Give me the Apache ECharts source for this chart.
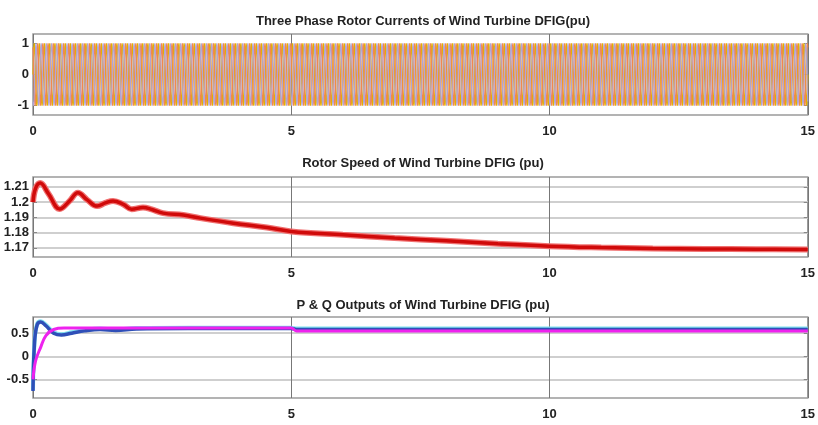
<!DOCTYPE html>
<html>
<head>
<meta charset="utf-8">
<script src="https://cdn.jsdelivr.net/npm/echarts@6/dist/echarts.min.js"></script>
<style>
html,body{margin:0;padding:0;background:#fff;}
#c{width:818px;height:425px;}
</style>
</head>
<body>
<div id="c"></div>
<script>
// ---------- data ----------
const titles = [
  'Three Phase Rotor Currents of Wind Turbine DFIG(pu)',
  'Rotor Speed of Wind Turbine DFIG (pu)',
  'P & Q Outputs of Wind Turbine DFIG (pu)'
];
const xTicks = [0, 5, 10, 15];

// Top panel: one period of the rotor current (pu), as read, and its repetition rate
const currentPeriodShape = [0, 0.5, 0.87, 1, 0.87, 0.5, 0, -0.5, -0.87, -1, -0.87, -0.5];
const currentCyclesPerSecond = 10;       // ~50 stripes per 5 s
const phaseShiftSamples = [0, 4, 8];     // 120 deg apart
const currentTicks = [-1, 0, 1];

// Middle panel: rotor speed (pu)
const speedTime = [0, 0.05, 0.14, 0.3, 0.52, 0.7, 0.87, 1.05, 1.24, 1.4, 1.55, 1.75, 1.91, 2.13, 2.3, 2.52, 2.91, 3.24, 3.88, 4.53, 5, 6, 7, 8, 9, 10, 11, 12, 13, 14, 15];
const speedValue = [1.200, 1.209, 1.2125, 1.2055, 1.1955, 1.2005, 1.2061, 1.2015, 1.1974, 1.1995, 1.2008, 1.1985, 1.1954, 1.1965, 1.1952, 1.1928, 1.1915, 1.1895, 1.1862, 1.1834, 1.1808, 1.1786, 1.1765, 1.1746, 1.1727, 1.1711, 1.1702, 1.1696, 1.1693, 1.1691, 1.1690];
const speedTicks = [1.17, 1.18, 1.19, 1.2, 1.21];

// Bottom panel: active (P) and reactive (Q) power (pu)
const pTime = [0, 0.03, 0.08, 0.15, 0.25, 0.4, 0.55, 0.75, 1.0, 1.3, 1.6, 2.0, 3.0, 5.0, 5.1, 7, 10, 15];
const pValue = [-0.75, 0.3, 0.68, 0.74, 0.66, 0.5, 0.46, 0.5, 0.55, 0.58, 0.56, 0.59, 0.6, 0.6, 0.58, 0.58, 0.58, 0.58];
const qTime = [0, 0.05, 0.15, 0.25, 0.4, 0.6, 1.0, 3.0, 5.0, 5.1, 7, 10, 15];
const qValue = [-0.5, -0.1, 0.2, 0.45, 0.58, 0.61, 0.61, 0.61, 0.61, 0.55, 0.55, 0.55, 0.55];
const pqTicks = [-0.5, 0, 0.5];

// ---------- build ----------
function buildPhase(shift) {
  const n = currentPeriodShape.length;
  const total = 15 * currentCyclesPerSecond * n;
  const out = [];
  for (let i = 0; i <= total; i++) {
    out.push([i * 15 / total, currentPeriodShape[(i + shift) % n]]);
  }
  return out;
}
const zip = (a, b) => a.map((t, i) => [t, b[i]]);

const font = '"Liberation Sans Narrow", "Liberation Sans", Arial, sans-serif';
const grids = [
  {left: 33, top: 34, width: 775, height: 81},
  {left: 33, top: 177, width: 775, height: 80},
  {left: 33, top: 317, width: 775, height: 81}
];
const yRanges = [[-1.3, 1.3], [1.164, 1.2165], [-0.9, 0.85]];
const yTickSets = [currentTicks, speedTicks, pqTicks];
const hGrid = [false, true, true];

const chart = echarts.init(document.getElementById('c'), null, {renderer: 'canvas'});
const option = {
  animation: false,
  backgroundColor: '#fff',
  title: titles.map((t, i) => ({
    text: t, left: 418, textAlign: 'center', top: [10, 152, 294][i],
    textStyle: {fontFamily: font, fontSize: 13, fontWeight: 'bold', color: '#222'}
  })),
  grid: grids.map(g => Object.assign({show: true, borderColor: '#9a9a9a', borderWidth: 1.5, backgroundColor: '#fff'}, g)),
  xAxis: grids.map((g, i) => ({
    type: 'value', gridIndex: i, min: 0, max: 15, interval: 5,
    axisLine: {show: false},
    axisTick: {show: false},
    axisLabel: {fontFamily: font, fontSize: 13, fontWeight: 'bold', color: '#222', margin: 10},
    splitLine: {show: true, lineStyle: {color: '#777', width: 1}}
  })),
  yAxis: [].concat(
    grids.map((g, i) => ({
      type: 'value', gridIndex: i, min: yRanges[i][0], max: yRanges[i][1],
      axisLine: {show: false},
      axisTick: {show: true, inside: true, length: 4, customValues: yTickSets[i], lineStyle: {color: '#888'}},
      axisLabel: {fontFamily: font, fontSize: 13, fontWeight: 'bold', color: '#222', margin: 4,
                  customValues: yTickSets[i], formatter: v => String(+v.toFixed(3))},
      splitLine: {show: hGrid[i], lineStyle: {color: '#cfcfcf', width: 2}}
    })),
    grids.map((g, i) => ({
      type: 'value', gridIndex: i, position: 'right', min: yRanges[i][0], max: yRanges[i][1],
      axisLine: {show: false},
      axisTick: {show: true, inside: true, length: 4, customValues: yTickSets[i], lineStyle: {color: '#888'}},
      axisLabel: {show: false},
      splitLine: {show: false}
    }))
  ),
  series: [
    {type: 'line', xAxisIndex: 0, yAxisIndex: 0, data: buildPhase(phaseShiftSamples[0]), showSymbol: false, lineStyle: {color: '#e3b000', width: 1.3}, z: 2},
    {type: 'line', xAxisIndex: 0, yAxisIndex: 0, data: buildPhase(phaseShiftSamples[1]), showSymbol: false, lineStyle: {color: '#f08850', width: 1.3}, z: 2},
    {type: 'line', xAxisIndex: 0, yAxisIndex: 0, data: buildPhase(phaseShiftSamples[2]), showSymbol: false, lineStyle: {color: '#b0a4d6', width: 1.1}, z: 2},
    {type: 'line', xAxisIndex: 1, yAxisIndex: 1, data: zip(speedTime, speedValue), smooth: 0.4, showSymbol: false, lineStyle: {color: '#f07070', width: 6}, z: 2},
    {type: 'line', xAxisIndex: 1, yAxisIndex: 1, data: zip(speedTime, speedValue), smooth: 0.4, showSymbol: false, lineStyle: {color: '#d00a0a', width: 3.5}, z: 3},
    {type: 'line', xAxisIndex: 2, yAxisIndex: 2, data: zip(pTime, pValue.map(v => v + 0.02)), smooth: 0.4, showSymbol: false, lineStyle: {color: '#7fe0f0', width: 4}, z: 2},
    {type: 'line', xAxisIndex: 2, yAxisIndex: 2, data: zip(pTime, pValue), smooth: 0.4, showSymbol: false, lineStyle: {color: '#2f4fb8', width: 3.5}, z: 3},
    {type: 'line', xAxisIndex: 2, yAxisIndex: 2, data: zip(qTime, qValue), smooth: 0.4, showSymbol: false, lineStyle: {color: '#ee22ee', width: 3}, z: 4}
  ]
};
chart.setOption(option);
</script>
</body>
</html>
